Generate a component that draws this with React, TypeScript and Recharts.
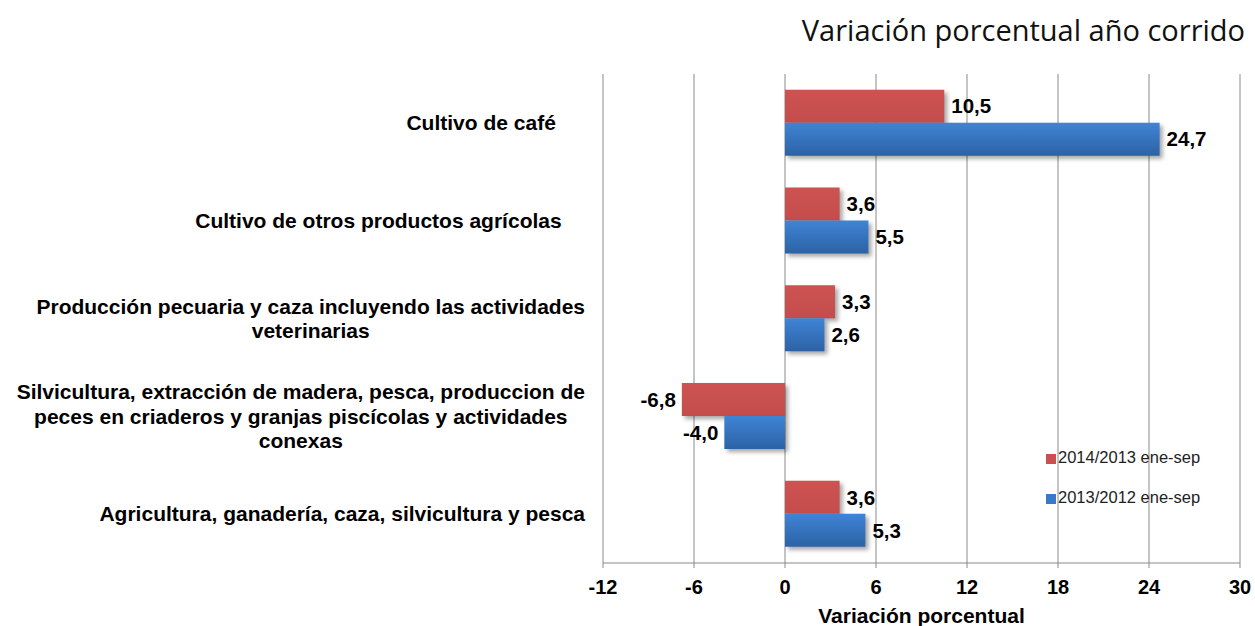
import { Bar, BarChart, CartesianGrid, LabelList, XAxis, YAxis } from "recharts";

const NB = "\u00a0";
const categories: string[][] = [
  ["Cultivo de café" + NB.repeat(5)],
  ["Cultivo de otros productos agrícolas" + NB.repeat(4)],
  ["Producción pecuaria y caza incluyendo las actividades", "veterinarias"],
  [
    "Silvicultura, extracción de madera, pesca, produccion de",
    "peces en criaderos y granjas piscícolas y actividades",
    "conexas",
  ],
  ["Agricultura, ganadería, caza, silvicultura y pesca"],
];
const serie2014 = [10.5, 3.6, 3.3, -6.8, 3.6];
const serie2013 = [24.7, 5.5, 2.6, -4.0, 5.3];
const xTicks = [-12, -6, 0, 6, 12, 18, 24, 30];
const seriesNames = ["2014/2013 ene-sep", "2013/2012 ene-sep"];

const data = categories.map((lines, i) => ({
  name: String(i),
  a2014: serie2014[i],
  a2013: serie2013[i],
}));

const FONT = "'Liberation Sans', Arial, sans-serif";
const TICK_FONT = `bold 21px ${FONT}`;
let ctx: CanvasRenderingContext2D | null = null;
function textWidth(s: string) {
  if (!ctx) ctx = document.createElement("canvas").getContext("2d");
  if (!ctx) return s.length * 11;
  ctx.font = TICK_FONT;
  return ctx.measureText(s).width;
}

function CategoryTick(props: any) {
  const { x, y, payload } = props;
  const lines = categories[Number(payload.value)];
  const w = Math.max(...lines.map(textWidth));
  const cx = x - 10 - w / 2;
  const lh = 24.5;
  const y0 = y - ((lines.length - 1) * lh) / 2;
  return (
    <text textAnchor="middle" style={{ font: TICK_FONT }} fill="#000">
      {lines.map((l, i) => (
        <tspan key={i} x={cx} y={y0 + i * lh} dy="0.35em">
          {l}
        </tspan>
      ))}
    </text>
  );
}

const fmt = (v: number) => v.toFixed(1).replace(".", ",");

function BarValue(props: any) {
  const { x, y, width, height, value } = props;
  const left = Math.min(x, x + width);
  const right = Math.max(x, x + width);
  const neg = value < 0;
  return (
    <text
      x={neg ? left - 6 : right + 7}
      y={y + height / 2}
      dy="0.35em"
      textAnchor={neg ? "end" : "start"}
      style={{ font: `bold 20.5px ${FONT}` }}
      fill="#000"
    >
      {fmt(value)}
    </text>
  );
}

function LegendBox() {
  const colors = ["#c9504f", "#3a78c8"];
  return (
    <div
      style={{
        position: "absolute",
        left: 1046,
        top: 437,
        fontFamily: FONT,
        fontSize: 16.5,
        color: "#222",
      }}
    >
      {seriesNames.map((name, i) => (
        <div key={name} style={{ display: "flex", alignItems: "center", height: 40 }}>
          <span
            style={{ width: 10, height: 10, background: colors[i], marginRight: 2, marginTop: 4, display: "inline-block" }}
          />
          {name}
        </div>
      ))}
    </div>
  );
}

export default function App() {
  return (
    <div style={{ position: "fixed", left: 0, top: 0, width: 1255, height: 626, background: "#fff" }}>
      <div
        style={{
          position: "absolute",
          right: 10,
          top: 10,
          fontFamily: "'Open Sans', sans-serif",
          fontSize: 29,
          lineHeight: "40px",
          color: "#111",
        }}
      >
        Variación porcentual año corrido
      </div>
      <BarChart
        width={1255}
        height={626}
        data={data}
        layout="vertical"
        margin={{ top: 74, right: 15, left: 0, bottom: 0 }}
        barCategoryGap="16%"
        barGap={0}
      >
        <defs>
          <linearGradient id="gBlue" x1="0" y1="0" x2="0" y2="1">
            <stop offset="0%" stopColor="#3f84d6" />
            <stop offset="100%" stopColor="#2c62a5" />
          </linearGradient>
          <linearGradient id="gRed" x1="0" y1="0" x2="0" y2="1">
            <stop offset="0%" stopColor="#cc5351" />
            <stop offset="100%" stopColor="#c44d4b" />
          </linearGradient>
        </defs>
        <CartesianGrid horizontal={false} stroke="#8a8a8a" xAxisId={0} />
        <XAxis
          xAxisId={0}
          type="number"
          domain={[-12, 30]}
          ticks={xTicks}
          interval={0}
          height={63}
          stroke="#8a8a8a"
          tickSize={5}
          tickMargin={12}
          tick={{ fill: "#000", fontSize: 20, fontWeight: "bold", fontFamily: FONT }}
          label={{
            value: "Variación porcentual",
            position: "insideBottom",
            offset: 3,
            style: { fill: "#000", fontSize: 21, fontWeight: "bold", fontFamily: FONT },
          }}
        />
        <XAxis
          xAxisId={1}
          orientation="top"
          type="number"
          domain={[-12, 30]}
          height={0}
          tick={false}
          tickLine={false}
          stroke="#c4c4c4"
        />
        <YAxis
          type="category"
          dataKey="name"
          width={603}
          axisLine={false}
          tickLine={false}
          tick={<CategoryTick />}
          interval={0}
        />
        <Bar
          xAxisId={0}
          dataKey="a2014"
          name={seriesNames[0]}
          fill="url(#gRed)"
          isAnimationActive={false}
          style={{ filter: "drop-shadow(3px 3px 2px rgba(0,0,0,0.35))" }}
        >
          <LabelList dataKey="a2014" content={<BarValue />} />
        </Bar>
        <Bar
          xAxisId={0}
          dataKey="a2013"
          name={seriesNames[1]}
          fill="url(#gBlue)"
          isAnimationActive={false}
          style={{ filter: "drop-shadow(3px 3px 2px rgba(0,0,0,0.35))" }}
        >
          <LabelList dataKey="a2013" content={<BarValue />} />
        </Bar>
      </BarChart>
      <LegendBox />
    </div>
  );
}
